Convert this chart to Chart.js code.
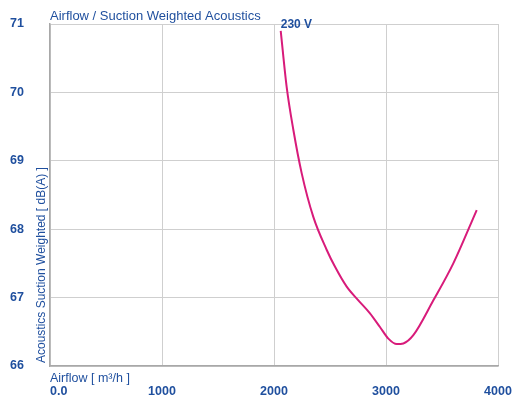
<!DOCTYPE html>
<html>
<head>
<meta charset="utf-8">
<script src="https://cdn.jsdelivr.net/npm/chart.js@4.4.0/dist/chart.umd.min.js"></script>
<style>
  html, body { margin: 0; padding: 0; background: #fff; }
  #wrap { width: 512px; height: 401px; }
</style>
</head>
<body>
<div id="wrap"><canvas id="chart" width="512" height="401"></canvas></div>
<script>
// werte
const airflow = [2060, 2113, 2173, 2247, 2351, 2470, 2545, 2649, 2753, 2857, 2946, 3021, 3096, 3155, 3244, 3423, 3601, 3810];
const acoustics = [70.90, 70.08, 69.45, 68.82, 68.18, 67.70, 67.45, 67.16, 66.96, 66.77, 66.57, 66.40, 66.32, 66.33, 66.45, 66.96, 67.50, 68.28];
const xTicks = [0, 1000, 2000, 3000, 4000];
const xTickLabels = ['0.0', '1000', '2000', '3000', '4000'];
const yTicks = [66, 67, 68, 69, 70, 71];
const seriesLabel = '230 V';

const blue = '#1f4f9e';

// texte (ticks, titel) werden hier mit den skalen gezeichnet
const labelPlugin = {
    id: 'labels',
    afterDraw(chart) {
        const ctx = chart.ctx;
        const xs = chart.scales.x;
        const ys = chart.scales.y;
        const area = chart.chartArea;
        ctx.save();
        ctx.fillStyle = blue;

        ctx.font = 'bold 12.5px "Liberation Sans", Arial, sans-serif';
        ctx.textBaseline = 'middle';
        ctx.textAlign = 'right';
        yTicks.forEach(v => {
            ctx.fillText(String(v), 24, ys.getPixelForValue(v));
        });

        xTicks.forEach((v, i) => {
            ctx.textAlign = i === 0 ? 'left' : 'center';
            const px = xs.getPixelForValue(v);
            ctx.fillText(xTickLabels[i], i === 0 ? area.left : px, 392);
        });

        ctx.textAlign = 'left';
        ctx.textBaseline = 'alphabetic';
        ctx.font = '13px "Liberation Sans", Arial, sans-serif';
        ctx.fillText('Airflow / Suction Weighted Acoustics', area.left, 20);
        ctx.font = '12.5px "Liberation Sans", Arial, sans-serif';
        ctx.fillText('Airflow [ m³/h ]', area.left, 382);

        ctx.save();
        ctx.font = '12px "Liberation Sans", Arial, sans-serif';
        ctx.translate(45, area.bottom - 3);
        ctx.rotate(-Math.PI / 2);
        ctx.fillText('Acoustics Suction Weighted [ dB(A) ]', 0, 0);
        ctx.restore();

        // beschriftung der kurve am anfang
        ctx.font = 'bold 12px "Liberation Sans", Arial, sans-serif';
        ctx.textBaseline = 'middle';
        ctx.fillText(seriesLabel, xs.getPixelForValue(airflow[0]), 25);
        ctx.restore();
    }
};

const chart = new Chart(document.getElementById('chart'), {
    type: 'line',
    data: {
        datasets: [{
            label: seriesLabel,
            data: airflow.map((x, i) => ({ x: x, y: acoustics[i] })),
            borderColor: '#d81b7a',
            borderWidth: 2,
            pointRadius: 0,
            fill: false,
            cubicInterpolationMode: 'monotone'
        }]
    },
    options: {
        responsive: false,
        animation: false,
        devicePixelRatio: 1,
        layout: { padding: { left: 50, right: 14, top: 24, bottom: 35 } },
        plugins: { legend: { display: false }, tooltip: { enabled: false } },
        scales: {
            x: {
                type: 'linear',
                min: 0,
                max: 4000,
                afterBuildTicks: s => { s.ticks = xTicks.map(v => ({ value: v })); },
                ticks: { display: false },
                grid: { color: '#cfcfcf', lineWidth: 1, drawTicks: false },
                border: { color: '#a8a8a8', width: 1.5 }
            },
            y: {
                type: 'linear',
                min: 66,
                max: 71,
                afterBuildTicks: s => { s.ticks = yTicks.map(v => ({ value: v })); },
                ticks: { display: false },
                grid: { color: '#cfcfcf', lineWidth: 1, drawTicks: false },
                border: { color: '#a8a8a8', width: 1.5 }
            }
        }
    },
    plugins: [labelPlugin]
});
</script>
</body>
</html>
